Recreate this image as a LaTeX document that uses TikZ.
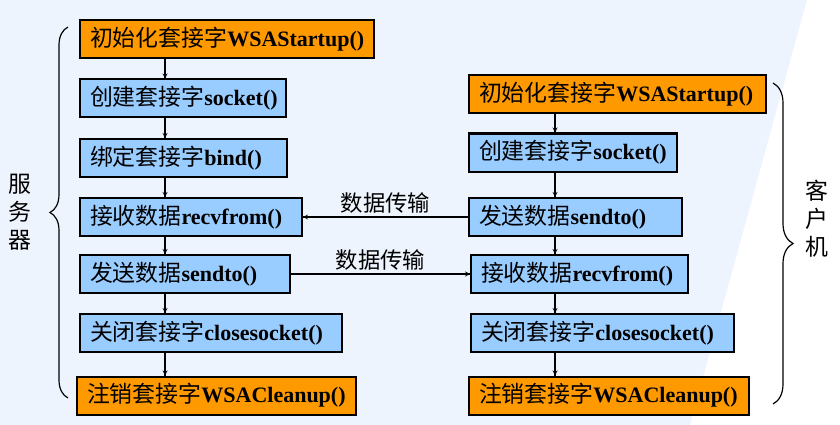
\documentclass[tikz,border=0pt]{standalone}
\usepackage{fontspec}
\setmainfont{Liberation Serif}
\newfontfamily\cjk[Scale=1.04]{Noto Sans CJK SC}
\usepackage{tikz}
\usetikzlibrary{decorations.markings,decorations.pathreplacing}
\definecolor{bgblue}{HTML}{EEF4FD}
\definecolor{initorange}{HTML}{FF9900}
\definecolor{callblue}{HTML}{99CCFF}
\tikzstyle{apibox}=[draw, line width=2pt, anchor=west, minimum height=38pt, inner xsep=10pt, inner ysep=0pt, align=left, font=\fontsize{22}{26}\selectfont\bfseries]
\tikzstyle{initbox}=[apibox, fill=initorange]
\tikzstyle{callbox}=[apibox, fill=callblue]
\tikzstyle{side}=[align=center, font=\fontsize{22}{28}\selectfont\cjk]
\tikzstyle{flowlabel}=[above, font=\fontsize{21.5}{25}\selectfont\cjk]
\newcommand{\zh}[1]{{\mdseries\cjk #1}}

\begin{document}
\begin{tikzpicture}[x=1pt, y=-1pt,
    every edge/.style={
        draw, line width=1.2pt,
        postaction={decorate,
                    decoration={markings,mark=at position 1 with {\arrow{stealth}}}
                   }
        }
]
\fill[bgblue] (0,0) rectangle (840,425);
\fill[white] (807,0) -- (840,0) -- (840,425) -- (690,425) -- cycle;
\useasboundingbox (0,0) rectangle (840,425);
\coordinate (sx) at (165,0);
\coordinate (cx) at (555,0);
% server side
\node[initbox, text width=274pt] (L1) at (79,39) {\zh{初始化套接字}WSAStartup()};
\node[callbox, text width=186pt] (L2) at (79,98.5) {\zh{创建套接字}socket()};
\node[callbox, text width=187pt] (L3) at (79,158) {\zh{绑定套接字}bind()};
\node[callbox, text width=202pt] (L4) at (79,217) {\zh{接收数据}recvfrom()};
\node[callbox, text width=190pt] (L5) at (79,274) {\zh{发送数据}sendto()};
\node[callbox, text width=242pt] (L6) at (79,333) {\zh{关闭套接字}closesocket()};
\node[initbox, text width=259pt] (L7) at (76,395.5) {\zh{注销套接字}WSACleanup()};
% client side
\node[initbox, text width=277pt] (R1) at (468,94) {\zh{初始化套接字}WSAStartup()};
\node[callbox, text width=188pt] (R2) at (468,152.5) {\zh{创建套接字}socket()};
\node[callbox, text width=193pt] (R3) at (468,217) {\zh{发送数据}sendto()};
\node[callbox, text width=197pt] (R4) at (470,274) {\zh{接收数据}recvfrom()};
\node[callbox, text width=243pt] (R5) at (470,333) {\zh{关闭套接字}closesocket()};
\node[initbox, text width=260pt] (R6) at (468,395.5) {\zh{注销套接字}WSACleanup()};
\node[side] (srv) at (20,212) {服\\务\\器};
\node[side] (cli) at (817,219) {客\\户\\机};
\coordinate (ltop) at (68,27);
\coordinate (lbot) at (68,398);
\coordinate (rtop) at (773,83);
\coordinate (rbot) at (773,404);
\draw[line width=1.2pt, decorate, decoration={brace, amplitude=18pt}] (lbot) -- (ltop);
\draw[line width=1.2pt, decorate, decoration={brace, amplitude=20pt}] (rtop) -- (rbot);
\path
(L1.south -| sx) edge (L2.north -| sx)
(L2.south -| sx) edge (L3.north -| sx)
(L3.south -| sx) edge (L4.north -| sx)
(L4.south -| sx) edge (L5.north -| sx)
(L5.south -| sx) edge (L6.north -| sx)
(L6.south -| sx) edge (L7.north -| sx)
(R1.south -| cx) edge (R2.north -| cx)
(R2.south -| cx) edge (R3.north -| cx)
(R3.south -| cx) edge (R4.north -| cx)
(R4.south -| cx) edge (R5.north -| cx)
(R5.south -| cx) edge (R6.north -| cx)
(R3) edge node[flowlabel] {数据传输} (L4)
(L5) edge node[flowlabel] {数据传输} (R4)
;
\end{tikzpicture}
\end{document}
